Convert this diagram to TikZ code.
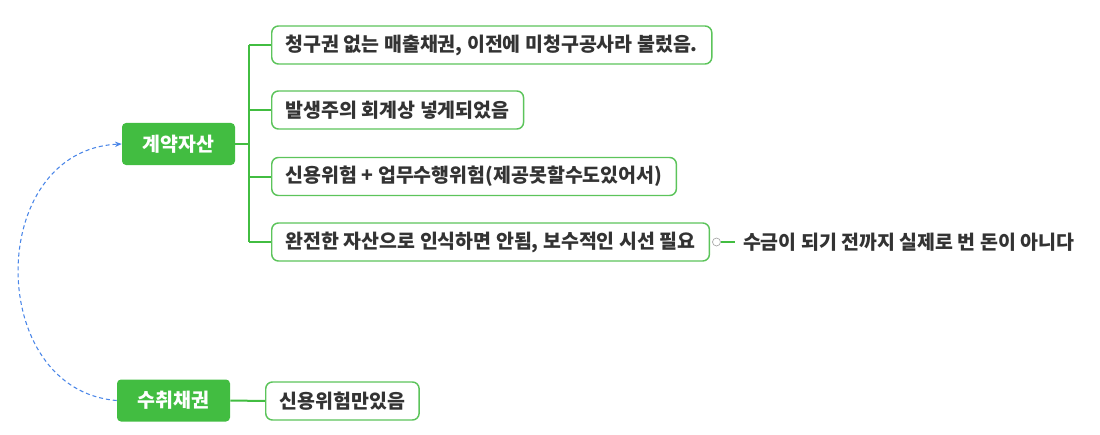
\documentclass[tikz,border=0pt]{standalone}
\usepackage{fontspec}
\setmainfont{Noto Sans CJK KR}
\usetikzlibrary{arrows.meta,positioning}
\definecolor{mapgreen}{HTML}{42BD41}
\definecolor{edgegreen}{HTML}{5CC45B}
\definecolor{linkblue}{HTML}{4A86E8}
\definecolor{txtgray}{HTML}{333333}

\begin{document}
\begin{tikzpicture}[
    x=0.75pt, y=-0.75pt,
    main/.style={fill=mapgreen, rounded corners=3pt, text=white, font=\bfseries\fontsize{14.6}{17}\selectfont, minimum width=84.75pt, minimum height=31.5pt, inner sep=0pt},
    topic/.style={draw=edgegreen, line width=1.1pt, fill=white, rounded corners=5pt, text=txtgray, font=\bfseries\fontsize{14.6}{17}\selectfont, minimum height=28.5pt, inner xsep=10.5pt, inner ysep=0pt, anchor=west},
    note/.style={text=txtgray, font=\bfseries\fontsize{14.6}{17}\selectfont, inner xsep=6pt, inner ysep=0pt, anchor=west},
    branch/.style={draw=mapgreen, line width=1.5pt},
    knob/.style={circle, draw=gray!70, fill=white, line width=0.5pt, inner sep=0pt, minimum size=6pt},
    link/.style={-{Stealth[length=5pt,width=4pt]}, dashed, dash pattern=on 3pt off 2.2pt, linkblue, line width=0.8pt}
]
\useasboundingbox (0,0) rectangle (1100,435);

\node[main] (asset) at (178.5,144) {계약자산};
\node[main] (recv) at (173.5,400.5) {수취채권};

\node[topic] (c1) at (271,45) {청구권 없는 매출채권, 이전에 미청구공사라 불렀음.};
\node[topic] (c2) at (271,110) {발생주의 회계상 넣게되었음};
\node[topic] (c3) at (271,176.5) {신용위험 + 업무수행위험(제공못할수도있어서)};
\node[topic] (c4) at (271,242) {완전한 자산으로 인식하면 안됨, 보수적인 시선 필요};
\node[topic] (r1) at (265,401) {신용위험만있음};

\node[knob, right=1.5pt of c4] (k4) {};
\node[note, right=10.5pt of k4] (n4) {수금이 되기 전까지 실제로 번 돈이 아니다};

% branches
\coordinate (fork) at (249,144);
\draw[branch] (asset.east) -- (fork);
\draw[branch] (fork |- c1.west) -- (fork |- c4.west);
\foreach \c in {c1,c2,c3,c4}
    \draw[branch] (fork |- \c.west) -- (\c.west);
\draw[branch] (recv.east) -- (r1.west);
\draw[draw=mapgreen, line width=0.8pt] (k4) -- (n4.west);

\draw[link] (recv.west) .. controls (-15,390) and (-15,150) .. (asset.west);
\end{tikzpicture}
\end{document}
